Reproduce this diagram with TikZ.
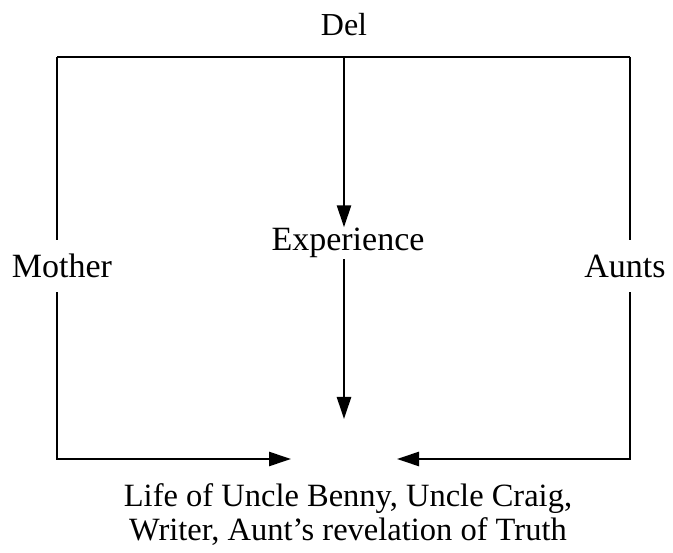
\documentclass[tikz,border=0pt]{standalone}
\usepackage{fontspec}
\setmainfont{Liberation Serif}
\usetikzlibrary{arrows.meta}
\begin{document}
\begin{tikzpicture}[x=1pt,y=-1pt,
  every node/.style={font=\fontsize{34}{36}\selectfont, text=black},
  wire/.style={line width=2.6pt, draw=black},
  flow/.style={wire, -{Triangle[length=22pt,width=14pt]}},
  sidelabel/.style={inner sep=0pt, minimum height=52pt}]
  \useasboundingbox (0,0) rectangle (673,553);
  \fill[white] (0,0) rectangle (673,553);

  % labels
  \node[anchor=base, font=\fontsize{32}{34}\selectfont] (del) at (344,36) {Del};
  \node[anchor=base, inner ysep=1pt, inner xsep=2pt] (exp) at (348,251) {Experience};
  \node[sidelabel] (mother) at (62,266) {Mother};
  \node[sidelabel] (aunts) at (625,266) {Aunts};
  \node[anchor=base, align=center, font=\fontsize{32.5}{34}\selectfont] (result) at (348,541)
    {Life of Uncle Benny, Uncle Craig,\\Writer, Aunt’s revelation of Truth};

  % frame corners and arrow tips
  \coordinate (tl) at (57,57);
  \coordinate (tr) at (630,57);
  \coordinate (tm) at (344,57);
  \coordinate (bl) at (57,459);
  \coordinate (br) at (630,459);
  \coordinate (ltip) at (291,459);
  \coordinate (rtip) at (397,459);
  \coordinate (mtip) at (344,419);

  % connectors
  \draw[wire] (tl) -- (tr);
  \draw[wire] (tl) -- (tl |- mother.north);
  \draw[wire] (tr) -- (tr |- aunts.north);
  \draw[flow] (tl |- mother.south) -- (bl) -- (ltip);
  \draw[flow] (tr |- aunts.south) -- (br) -- (rtip);
  \draw[flow] (tm) -- (tm |- exp.north);
  \draw[flow] (tm |- exp.south) -- (mtip);
\end{tikzpicture}
\end{document}
